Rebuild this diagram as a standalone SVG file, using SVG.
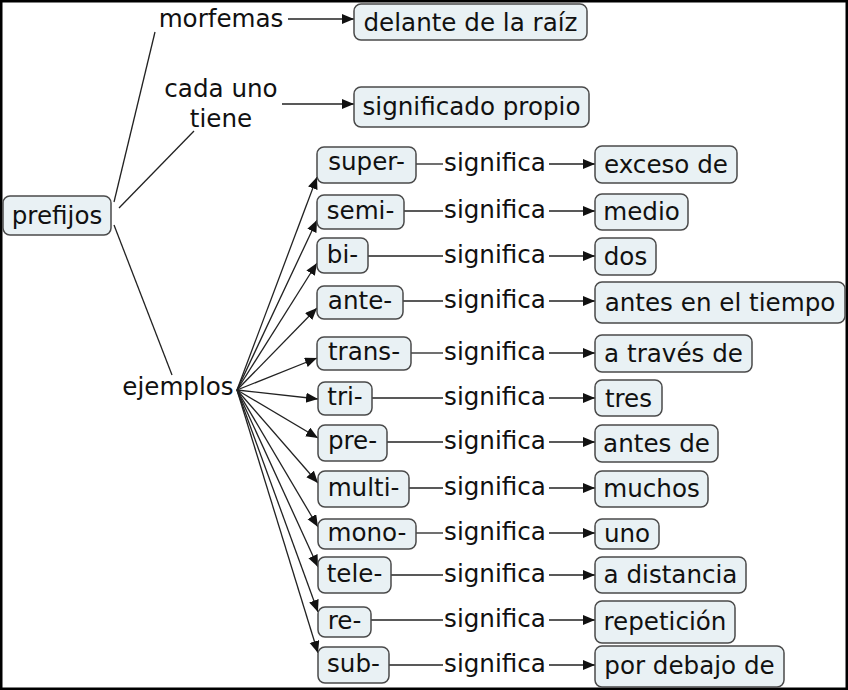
<svg xmlns="http://www.w3.org/2000/svg" width="848" height="690" viewBox="0 0 848 690">
<style>
text{font-family:"DejaVu Sans","Verdana",sans-serif;font-size:24.6px;fill:#111;text-anchor:middle}
.box{fill:#e9f1f4;stroke:#4a4a4a;stroke-width:1.5}
.ln{stroke:#222;stroke-width:1.3;fill:none}
.ar{stroke:#222;stroke-width:1.3;fill:none;marker-end:url(#ah)}
</style>
<defs>
<marker id="ah" markerUnits="userSpaceOnUse" markerWidth="13" markerHeight="11" refX="12" refY="5" orient="auto">
<path d="M0,0 L12,5 L0,10 z" fill="#111"/>
</marker>
</defs>
<rect x="0" y="0" width="848" height="690" fill="#fff"/>
<rect x="1.25" y="1.25" width="845.5" height="687.5" fill="none" stroke="#000" stroke-width="2.5"/>

<g id="connectors">
<line class="ln" x1="114" y1="202" x2="155" y2="32"/>
<line class="ln" x1="119" y1="208" x2="194" y2="131"/>
<line class="ln" x1="114" y1="225" x2="172" y2="375"/>
<line class="ar" x1="288" y1="19" x2="354" y2="19"/>
<line class="ar" x1="282" y1="104" x2="354" y2="104"/>
<line class="ar" x1="237" y1="390" x2="317" y2="177"/>
<line class="ar" x1="237" y1="390" x2="317" y2="220"/>
<line class="ar" x1="237" y1="390" x2="317" y2="263"/>
<line class="ar" x1="237" y1="390" x2="317" y2="308"/>
<line class="ar" x1="237" y1="390" x2="317" y2="358"/>
<line class="ar" x1="237" y1="390" x2="318" y2="399"/>
<line class="ar" x1="237" y1="390" x2="318" y2="438"/>
<line class="ar" x1="237" y1="390" x2="318" y2="483"/>
<line class="ar" x1="237" y1="390" x2="318" y2="527"/>
<line class="ar" x1="237" y1="390" x2="318" y2="567"/>
<line class="ar" x1="237" y1="390" x2="318" y2="612"/>
<line class="ar" x1="237" y1="390" x2="318" y2="653"/>
<line class="ln" x1="416" y1="164" x2="443" y2="164"/><line class="ar" x1="549" y1="164" x2="595" y2="164"/>
<line class="ln" x1="404" y1="211" x2="443" y2="211"/><line class="ar" x1="549" y1="211" x2="595" y2="211"/>
<line class="ln" x1="368" y1="256" x2="443" y2="256"/><line class="ar" x1="549" y1="256" x2="595" y2="256"/>
<line class="ln" x1="403" y1="301" x2="443" y2="301"/><line class="ar" x1="549" y1="301" x2="595" y2="301"/>
<line class="ln" x1="411" y1="353" x2="443" y2="353"/><line class="ar" x1="549" y1="353" x2="595" y2="353"/>
<line class="ln" x1="372" y1="398" x2="443" y2="398"/><line class="ar" x1="549" y1="398" x2="595" y2="398"/>
<line class="ln" x1="387" y1="442" x2="443" y2="442"/><line class="ar" x1="549" y1="442" x2="595" y2="442"/>
<line class="ln" x1="409" y1="488" x2="443" y2="488"/><line class="ar" x1="549" y1="488" x2="595" y2="488"/>
<line class="ln" x1="416" y1="533" x2="443" y2="533"/><line class="ar" x1="549" y1="533" x2="595" y2="533"/>
<line class="ln" x1="391" y1="575" x2="443" y2="575"/><line class="ar" x1="549" y1="575" x2="595" y2="575"/>
<line class="ln" x1="371" y1="620" x2="443" y2="620"/><line class="ar" x1="549" y1="620" x2="595" y2="620"/>
<line class="ln" x1="389" y1="665" x2="443" y2="665"/><line class="ar" x1="549" y1="665" x2="595" y2="665"/>
</g>

<g id="labels">
<text x="221" y="27">morfemas</text>
<text x="221" y="97">cada uno</text>
<text x="221" y="127">tiene</text>
<text x="178" y="395">ejemplos</text>
<text x="495" y="171">significa</text>
<text x="495" y="218">significa</text>
<text x="495" y="263">significa</text>
<text x="495" y="308">significa</text>
<text x="495" y="360">significa</text>
<text x="495" y="405">significa</text>
<text x="495" y="449">significa</text>
<text x="495" y="495">significa</text>
<text x="495" y="540">significa</text>
<text x="495" y="582">significa</text>
<text x="495" y="627">significa</text>
<text x="495" y="672">significa</text>
</g>

<g id="n-prefijos"><rect class="box" x="3" y="196" width="108" height="39" rx="7"/><text x="57" y="224">prefijos</text></g>
<g id="n-delante"><rect class="box" x="354" y="4" width="233" height="36" rx="7"/><text x="470.5" y="31">delante de la raíz</text></g>
<g id="n-significado"><rect class="box" x="354" y="87" width="235" height="40" rx="7"/><text x="471.5" y="115">significado propio</text></g>

<g id="n-super"><rect class="box" x="317" y="147" width="99" height="36" rx="7"/><text x="366.5" y="170">super-</text></g>
<g id="n-semi"><rect class="box" x="317" y="195" width="87" height="34" rx="7"/><text x="360.5" y="219">semi-</text></g>
<g id="n-bi"><rect class="box" x="317" y="238" width="51" height="35" rx="7"/><text x="342.5" y="263">bi-</text></g>
<g id="n-ante"><rect class="box" x="317" y="286" width="86" height="33" rx="7"/><text x="360" y="309">ante-</text></g>
<g id="n-trans"><rect class="box" x="317" y="337" width="94" height="33" rx="7"/><text x="364" y="360">trans-</text></g>
<g id="n-tri"><rect class="box" x="318" y="382" width="54" height="33" rx="7"/><text x="345" y="405">tri-</text></g>
<g id="n-pre"><rect class="box" x="318" y="425" width="69" height="36" rx="7"/><text x="352.5" y="449">pre-</text></g>
<g id="n-multi"><rect class="box" x="318" y="471" width="91" height="36" rx="7"/><text x="363.5" y="496">multi-</text></g>
<g id="n-mono"><rect class="box" x="318" y="519" width="98" height="30" rx="7"/><text x="367" y="541">mono-</text></g>
<g id="n-tele"><rect class="box" x="318" y="557" width="73" height="36" rx="7"/><text x="354.5" y="582">tele-</text></g>
<g id="n-re"><rect class="box" x="318" y="607" width="53" height="30" rx="7"/><text x="344.5" y="629">re-</text></g>
<g id="n-sub"><rect class="box" x="318" y="647" width="71" height="36" rx="7"/><text x="353.5" y="672">sub-</text></g>

<g id="n-exceso"><rect class="box" x="595" y="146" width="142" height="37" rx="7"/><text x="666" y="173">exceso de</text></g>
<g id="n-medio"><rect class="box" x="595" y="194" width="93" height="36" rx="7"/><text x="641.5" y="220">medio</text></g>
<g id="n-dos"><rect class="box" x="595" y="238" width="61" height="37" rx="7"/><text x="625.5" y="265">dos</text></g>
<g id="n-antes-tiempo"><rect class="box" x="595" y="282" width="250" height="41" rx="7"/><text x="720" y="311">antes en el tiempo</text></g>
<g id="n-traves"><rect class="box" x="595" y="335" width="157" height="37" rx="7"/><text x="673.5" y="362">a través de</text></g>
<g id="n-tres"><rect class="box" x="595" y="380" width="67" height="36" rx="7"/><text x="628.5" y="407">tres</text></g>
<g id="n-antes-de"><rect class="box" x="595" y="425" width="123" height="37" rx="7"/><text x="656.5" y="452">antes de</text></g>
<g id="n-muchos"><rect class="box" x="595" y="471" width="113" height="36" rx="7"/><text x="651.5" y="497">muchos</text></g>
<g id="n-uno"><rect class="box" x="595" y="519" width="64" height="30" rx="7"/><text x="627" y="542">uno</text></g>
<g id="n-distancia"><rect class="box" x="595" y="557" width="151" height="36" rx="7"/><text x="670.5" y="583">a distancia</text></g>
<g id="n-repeticion"><rect class="box" x="595" y="601" width="140" height="42" rx="7"/><text x="665" y="630">repetición</text></g>
<g id="n-debajo"><rect class="box" x="595" y="646" width="189" height="41" rx="7"/><text x="689.5" y="674">por debajo de</text></g>
</svg>
